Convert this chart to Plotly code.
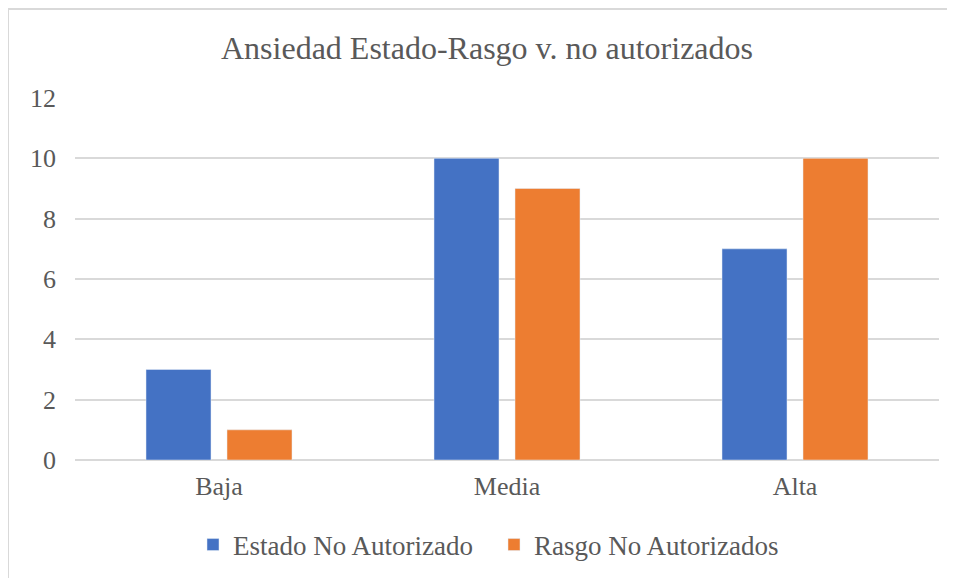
import plotly.graph_objects as go

categories = ["Baja", "Media", "Alta"]
estado = [3, 10, 7]
rasgo = [1, 9, 10]
series_names = ["Estado No Autorizado", "Rasgo No Autorizados"]
y_ticks = [0, 2, 4, 6, 8, 10, 12]

FONT = "'Liberation Serif', 'Times New Roman', 'DejaVu Serif', serif"
GREY = "#595959"

fig = go.Figure()
fig.add_trace(go.Bar(x=categories, y=estado, name=series_names[0], marker_color="#4472C4"))
fig.add_trace(go.Bar(x=categories, y=rasgo, name=series_names[1], marker_color="#ED7D31"))

# page has an 8px body margin: figure pixel = reference pixel - 8
OFF = 8
W, H = 955, 578
L, T = 75 - OFF, 98 - OFF
R = W - (939 - OFF)
B = H - (460 - OFF)
pw, ph = W - L - R, H - T - B

def py(y):
    return (H - B - (y - OFF)) / ph

def px(x):
    return (x - OFF - L) / pw

fig.update_layout(
    width=W, height=H,
    margin=dict(l=L, r=R, t=T, b=B),
    paper_bgcolor="white", plot_bgcolor="white",
    font=dict(family=FONT, color=GREY, size=26),
    title=dict(text="Ansiedad Estado-Rasgo v. no autorizados", x=(487 - OFF) / W, xanchor="center",
               xref="container",
               y=1 - (48 - OFF) / H, yanchor="middle", font=dict(size=32, color=GREY, family=FONT)),
    barmode="group", bargap=0.4375, bargroupgap=0.1975,
    showlegend=True,
    legend=dict(orientation="h", x=px(193), xanchor="left", y=py(545), yanchor="middle",
                font=dict(size=27, color=GREY, family=FONT), itemwidth=30,
                entrywidth=256, entrywidthmode="pixels"),
    xaxis=dict(showgrid=False, showline=False, ticks="",
               tickfont=dict(size=26, family=FONT, color=GREY), ticklabelstandoff=8),
    yaxis=dict(range=[0, 12], tickvals=y_ticks, showgrid=True, gridcolor="#d9d9d9", gridwidth=1.5,
               zeroline=True, zerolinecolor="#d9d9d9", zerolinewidth=1.5, showline=False,
               ticks="", tickfont=dict(size=26, family=FONT, color=GREY), ticklabelstandoff=18),
    shapes=[dict(type="rect", xref="paper", yref="paper",
                 x0=-L / pw, x1=1 + (R + 20) / pw, y0=-(B + 20) / ph, y1=1 + (T - 1) / ph,
                 line=dict(color="#d9d9d9", width=2), fillcolor="rgba(0,0,0,0)", layer="below")],
)

fig.write_html("out.html")
